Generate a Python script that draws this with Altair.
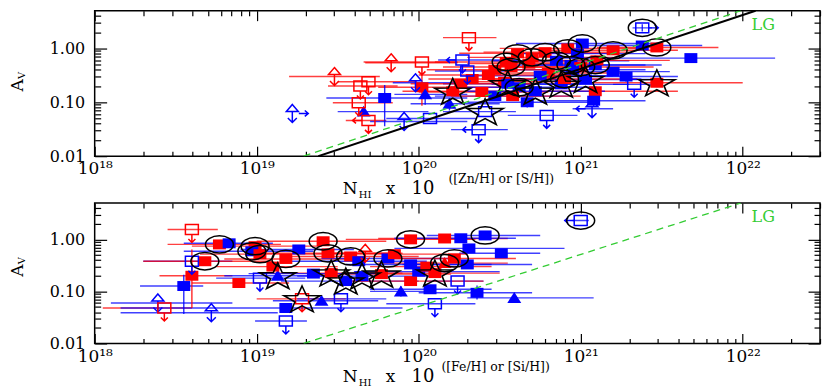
import altair as alt
import pandas as pd

# ---------------- top panel : N_HI x 10^([Zn/H] or [S/H]) ----------------
top_color = ["b", "r", "r", "r", "r", "r", "r", "b", "b", "b",
             "b", "r", "b", "r", "b", "r", "b", "b", "r", "b",
             "r", "r", "b", "b", "b", "r", "r", "r", "b", "r",
             "r", "b", "r", "b", "b", "r", "b", "r", "b", "r",
             "b", "b", "b", "b", "b", "r", "r", "b", "b", "b",
             "b", "b", "b", "r", "b", "r", "b", "r", "r", "b",
             "r", "b", "r", "r", "r", "b", "r"]
top_marker = ["utrir", "utri", "utri", "usq", "usq", "usq", "usql", "sq", "tri", "utri",
              "utri", "sq", "tri", "usq", "osq", "usq", "usql", "usq", "sq", "tri",
              "sq", "sq", "osq", "usql", "sq", "sq", "sq", "sq", "sq", "sq",
              "sq", "sq", "sq", "sq", "sq", "sq", "sq", "sq", "sq", "sq",
              "osqr", "sq", "sq", "sq", "usq", "sq", "sq", "sq", "utril", "usq",
              "sq", "sq", "sq", "sq", "sq", "sq", "sq", "sq", "sq", "sq",
              "sq", "sq", "sq", "sq", "sq", "sq", "sq"]
top_logn = [19.22, 19.48, 19.83, 19.69, 19.64, 19.63, 19.69, 19.79, 19.66, 19.91,
            19.98, 20.02, 20.04, 20.02, 20.07, 20.31, 20.27, 20.30, 20.21, 20.19,
            20.33, 20.39, 20.41, 20.37, 20.47, 20.53, 20.54, 20.61, 20.67, 20.70,
            20.78, 20.85, 20.92, 21.01, 20.94, 21.00, 21.09, 21.20, 21.38, 21.47,
            21.38, 21.68, 21.20, 21.28, 21.33, 21.47, 21.09, 21.08, 21.07, 20.79,
            20.62, 20.88, 21.03, 20.80, 20.75, 20.90, 20.95, 20.47, 20.43, 20.55,
            20.58, 20.72, 20.26, 20.57, 21.10, 20.98, 20.68]
top_av = [0.062, 0.30, 0.54, 0.24, 0.20, 0.098, 0.046, 0.12, 0.067, 0.044,
          0.23, 0.19, 0.14, 0.56, 0.050, 1.58, 0.61, 0.38, 0.16, 0.094,
          0.27, 0.155, 0.067, 0.031, 0.13, 0.24, 0.56, 0.81, 0.10, 0.68,
          0.85, 0.59, 1.00, 1.23, 0.49, 0.45, 0.49, 0.92, 1.13, 1.04,
          2.40, 0.66, 0.37, 0.30, 0.215, 0.23, 0.16, 0.107, 0.076, 0.057,
          0.19, 0.215, 0.265, 0.35, 0.31, 0.27, 0.40, 0.40, 0.32, 0.22,
          0.13, 0.16, 0.22, 0.45, 0.60, 0.80, 0.52]
top_nlo = [None, 19.20, 19.67, 19.50, 19.44, 19.47, 19.55, 19.43, 19.50, 19.70,
           19.84, 19.75, 19.85, 19.66, 19.80, 20.15, 20.12, 20.10, 19.90, 19.95,
           20.06, 20.00, 20.15, 20.20, 20.10, 20.20, 20.10, 20.25, 20.30, 20.30,
           20.40, 20.45, 20.50, 20.60, 20.50, 20.55, 20.70, 20.80, 21.00, 21.10,
           21.32, 20.90, 20.85, 20.95, 21.20, 21.00, 20.70, 20.75, 20.95, 20.55,
           20.20, 20.45, 20.60, 20.40, 20.30, 20.45, 20.55, 20.05, 20.00, 20.15,
           20.20, 20.30, 19.95, 20.15, 20.70, 20.60, 20.30]
top_nhi = [None, 19.76, 20.24, 19.99, 19.87, 19.84, 19.80, 20.30, 20.06, 20.30,
           20.36, 20.61, 20.30, 20.24, 20.36, 20.48, 20.61, 20.55, 20.60, 20.50,
           20.85, 20.80, 20.60, 20.55, 20.95, 21.00, 21.05, 21.20, 21.10, 21.20,
           21.30, 21.30, 21.35, 21.50, 21.40, 21.45, 21.50, 21.60, 21.75, 21.85,
           21.44, 22.20, 21.55, 21.60, 21.45, 22.00, 21.60, 21.40, 21.20, 20.98,
           21.10, 21.30, 21.45, 21.25, 21.20, 21.35, 21.40, 20.95, 20.90, 21.00,
           21.00, 21.15, 20.70, 21.00, 21.55, 21.40, 21.10]
top_avlo = [None, None, None, None, None, None, None, 0.036, None, None,
            None, 0.086, 0.09, None, None, None, None, None, None, 0.07,
            None, None, None, None, None, None, None, None, 0.08, None,
            None, None, None, None, None, None, None, None, None, None,
            2.05, None, None, 0.24, None, None, None, 0.085, None, None,
            None, None, None, None, None, None, None, None, None, None,
            None, None, None, None, None, None, None]
top_avhi = [None, None, None, None, None, None, None, 0.21, None, None,
            None, 0.33, 0.18, None, None, None, None, None, None, 0.12,
            None, None, None, None, None, None, None, None, 0.13, None,
            None, None, None, None, None, None, None, None, None, None,
            2.80, None, None, 0.36, None, None, None, 0.135, None, None,
            None, None, None, None, None, None, None, None, None, None,
            None, None, None, None, None, None, None]
top_ring = ["", "", "", "", "", "", "", "", "", "",
            "", "", "", "", "", "", "", "", "star", "",
            "", "", "star", "", "", "", "circ", "circ", "", "circ",
            "circ", "circ", "circ", "circ", "circ", "circ", "circ", "circ", "", "circ",
            "circ", "", "", "", "", "star", "", "", "", "",
            "circ", "star", "star", "", "", "circ", "", "", "", "star",
            "", "star", "", "circ", "", "", ""]

# ---------------- bottom panel : N_HI x 10^([Fe/H] or [Si/H]) ----------------
bot_color = ["r", "b", "r", "r", "b", "r", "b", "b", "r", "b",
             "r", "b", "r", "b", "r", "r", "r", "r", "r", "b",
             "r", "b", "r", "r", "b", "b", "r", "b", "b", "b",
             "b", "b", "b", "r", "b", "b", "b", "r", "r", "b",
             "b", "b", "b", "b", "r", "b", "b", "b", "r", "b",
             "b", "r", "r", "b", "r", "b", "r"]
bot_marker = ["usq", "usq", "sq", "sq", "sq", "sq", "sq", "utri", "usq", "utri",
              "sq", "sq", "sq", "sq", "sq", "sq", "sq", "sq", "sq", "sq",
              "sq", "tri", "usq", "sq", "sq", "sq", "sq", "tri", "usq", "usq",
              "sq", "usq", "tri", "sq", "sq", "sq", "sq", "sq", "tri", "sq",
              "usq", "sq", "sq", "usq", "sq", "sq", "osql", "tri", "sq", "sq",
              "sq", "sq", "utri", "sq", "sq", "sq", "sq"]
bot_logn = [18.60, 18.60, 18.68, 18.77, 18.83, 18.60, 18.55, 18.39, 18.43, 18.72,
            18.89, 19.26, 18.99, 18.97, 19.02, 19.18, 19.41, 19.44, 19.58, 19.81,
            19.95, 19.13, 19.28, 19.46, 19.55, 19.65, 19.77, 19.40, 19.52, 19.18,
            19.18, 19.02, 19.89, 20.16, 20.26, 20.41, 20.31, 20.22, 20.16, 20.30,
            20.24, 20.07, 20.36, 20.10, 19.95, 20.51, 21.00, 20.59, 20.10, 19.95,
            19.63, 19.85, 19.67, 20.00, 20.05, 19.35, 19.10]
bot_av = [1.55, 0.38, 0.38, 0.80, 0.84, 0.20, 0.127, 0.060, 0.048, 0.039,
          0.145, 0.64, 0.74, 0.59, 0.52, 0.42, 0.92, 0.54, 0.47, 0.43,
          1.00, 0.20, 0.072, 0.225, 0.158, 0.197, 0.215, 0.066, 0.072, 0.027,
          0.048, 0.18, 0.10, 1.04, 1.05, 1.19, 0.67, 0.43, 0.35, 0.33,
          0.158, 0.11, 0.094, 0.058, 0.158, 0.54, 2.30, 0.075, 0.225, 0.33,
          0.38, 0.52, 0.54, 0.24, 0.30, 0.22, 0.30]
bot_nlo = [18.45, 18.30, 18.30, 18.45, 18.55, 18.40, 18.28, 18.10, 18.05, 18.16,
           18.60, 18.90, 18.60, 18.55, 18.65, 18.80, 19.00, 19.05, 19.20, 19.40,
           19.55, 18.80, 19.00, 19.05, 19.15, 19.25, 19.35, 19.10, 19.25, 18.99,
           18.16, 18.75, 19.70, 19.75, 19.85, 20.05, 19.85, 19.80, 19.75, 19.90,
           20.05, 19.70, 20.00, 19.80, 19.55, 20.25, 20.95, 20.30, 19.70, 19.55,
           19.20, 19.45, 19.45, 19.60, 19.70, 18.95, 18.75]
bot_nhi = [18.76, 18.85, 19.10, 19.15, 19.10, 18.85, 18.67, 18.85, 18.60, 19.13,
           19.20, 19.60, 19.40, 19.35, 19.45, 19.60, 19.80, 19.85, 20.00, 20.25,
           20.35, 19.50, 19.55, 19.90, 20.00, 20.10, 20.20, 19.75, 19.80, 19.31,
           19.90, 19.30, 20.05, 20.55, 20.60, 20.75, 20.90, 20.60, 20.55, 20.70,
           20.40, 20.45, 20.70, 20.35, 20.40, 20.75, 21.05, 21.08, 20.50, 20.45,
           20.05, 20.30, 19.90, 20.50, 20.45, 19.75, 19.50]
bot_avlo = [None, None, None, None, None, 0.048, 0.037, None, None, None,
            None, None, None, None, None, None, None, None, None, None,
            None, None, None, None, None, None, None, None, None, None,
            None, None, 0.08, None, None, None, None, None, None, None,
            None, None, 0.07, None, None, None, None, None, None, None,
            None, None, None, None, None, None, None]
bot_avhi = [None, None, None, None, None, 0.64, 0.21, None, None, None,
            None, None, None, None, None, None, None, None, None, None,
            None, None, None, None, None, None, None, None, None, None,
            None, None, 0.125, None, None, None, None, None, None, None,
            None, None, 0.13, None, None, None, None, None, None, None,
            None, None, None, None, None, None, None]
bot_ring = ["", "", "circ", "circ", "", "", "", "", "", "",
            "", "", "circ", "circ", "circ", "circ", "circ", "circ", "circ", "circ",
            "circ", "star", "star", "star", "star", "star", "star", "", "", "",
            "", "", "", "", "", "circ", "", "circ", "circ", "",
            "", "", "", "", "", "", "circ", "", "star", "",
            "", "", "", "", "", "", ""]

# reference lines
line_n = [2.4e19, 1.2e22]
line_av = [0.01, 5.0]
lg_n = [1.95e19, 9.75e21]
lg_av = [0.01, 5.0]

# ---------------- styling ----------------
FONT = "DejaVu Serif"
XS = alt.Scale(type="log", domain=[1e18, 3e22], nice=False)
YS = alt.Scale(type="log", domain=[0.01, 5.0], nice=False)
COLOR = alt.Color("color:N", scale=alt.Scale(domain=["r", "b"], range=["#ff0000", "#0000ff"]), legend=None)

SQ = "M -0.65 -0.5 L 0.65 -0.5 L 0.65 0.5 L -0.65 0.5 Z"
TRI = "M 0 -0.6 L 0.7 0.5 L -0.7 0.5 Z"
DOWN = " M 0 0.5 L 0 1.3 M -0.35 0.95 L 0 1.3 L 0.35 0.95"
LEFT = " M -0.65 0 L -1.6 0 M -1.25 -0.3 L -1.6 0 L -1.25 0.3"
RIGHT = " M 0.65 0 L 1.6 0 M 1.25 -0.3 L 1.6 0 L 1.25 0.3"
UTRI = "M 0 -0.9 L 0.6 -0.2 L -0.6 -0.2 Z M 0 -0.2 L 0 0.9 M -0.45 0.45 L 0 0.9 L 0.45 0.45"
SHAPES = {
    "sq": SQ, "tri": TRI, "usq": SQ + DOWN, "usql": SQ + DOWN + LEFT,
    "osq": SQ, "osqr": SQ + RIGHT, "osql": SQ + LEFT,
    "utri": UTRI, "utrir": UTRI + RIGHT, "utril": UTRI + LEFT,
}
ELLIPSE = "M -1 0 A 1 0.62 0 1 0 1 0 A 1 0.62 0 1 0 -1 0 Z"
STAR = ("M 0 -0.68 L 0.235 -0.173 L 0.951 -0.162 L 0.38 0.163 L 0.588 0.677 L 0 0.37 "
        "L -0.588 0.677 L -0.38 0.163 L -0.951 -0.162 L -0.235 -0.173 Z")


def build(color, marker, logn, av, nlo, nhi, avlo, avhi, ring):
    df = pd.DataFrame({"color": color, "marker": marker, "logn": logn, "av": av,
                       "nlo": pd.Series(nlo, dtype=float), "nhi": pd.Series(nhi, dtype=float),
                       "avlo": pd.Series(avlo, dtype=float), "avhi": pd.Series(avhi, dtype=float),
                       "ring": ring})
    df["N"] = 10.0 ** df["logn"]
    df["Nlo"] = 10.0 ** df["nlo"]
    df["Nhi"] = 10.0 ** df["nhi"]
    df["path"] = df["marker"].map(SHAPES)
    return df


def X(f):
    return alt.X(f, type="quantitative", scale=XS, axis=None)


def Y(f):
    return alt.Y(f, type="quantitative", scale=YS, axis=None)


decades_x = [1e18, 1e19, 1e20, 1e21, 1e22]
minor_x = [m * 10.0 ** e for e in range(18, 23) for m in range(2, 10) if m * 10.0 ** e <= 3e22]
decades_y = [0.01, 0.1, 1.0]
minor_y = [m * 10.0 ** e for e in (-2, -1, 0) for m in range(2, 10) if m * 10.0 ** e < 5.0]
XLABEL = ("datum.value < 3e18 ? '10\u00b9\u2078' : datum.value < 3e19 ? '10\u00b9\u2079' : "
          "datum.value < 3e20 ? '10\u00b2\u2070' : datum.value < 3e21 ? '10\u00b2\u00b9' : '10\u00b2\u00b2'")


def ax(orient, values, size, labels=False, **kw):
    return alt.Axis(orient=orient, values=values, tickSize=size, offset=-size, domain=False,
                    grid=False, ticks=True, tickColor="black", tickWidth=1.2, labels=labels,
                    title=None, **kw)


dummy = pd.DataFrame({"N": [1e20], "av": [0.1]})


def axis_layer(xa, ya):
    return alt.Chart(dummy).mark_point(size=0, opacity=0).encode(
        x=alt.X("N:Q", scale=XS, axis=xa), y=alt.Y("av:Q", scale=YS, axis=ya))


def text(t, x, y, size, align="left", baseline="alphabetic", color="black", angle=0):
    return alt.Chart(pd.DataFrame({"k": [0]})).mark_text(
        text=t, font=FONT, fontSize=size, align=align, baseline=baseline, color=color,
        angle=angle).encode(x=alt.value(x), y=alt.value(y))


def panel(df, H, sup, sup_x, with_line, ty, av_y, lab_pad):
    layers = []
    ex = df[df["Nlo"].notna()]
    layers.append(alt.Chart(ex).mark_rule(strokeWidth=1.4, opacity=0.75, clip=True).encode(
        x=X("Nlo"), x2="Nhi:Q", y=Y("av"), color=COLOR))
    ey = df[df["avlo"].notna()]
    layers.append(alt.Chart(ey).mark_rule(strokeWidth=1.4, opacity=0.85, clip=True).encode(
        x=X("N"), y=Y("avlo"), y2="avhi:Q", color=COLOR))
    filled = df[df["marker"].isin(["sq", "tri"])]
    layers.append(alt.Chart(filled).mark_point(filled=True, size=400, opacity=1, strokeWidth=0).encode(
        x=X("N"), y=Y("av"), color=COLOR, shape=alt.Shape("path:N", scale=None, legend=None)))
    opn = df[~df["marker"].isin(["sq", "tri"])]
    layers.append(alt.Chart(opn).mark_point(filled=False, size=400, opacity=1, strokeWidth=1.5).encode(
        x=X("N"), y=Y("av"), color=COLOR, shape=alt.Shape("path:N", scale=None, legend=None)))
    layers.append(alt.Chart(df[df["ring"] == "circ"]).mark_point(
        shape=ELLIPSE, size=784, filled=False, color="black", strokeWidth=1.5, opacity=1).encode(
        x=X("N"), y=Y("av")))
    layers.append(alt.Chart(df[df["ring"] == "star"]).mark_point(
        shape=STAR, size=1444, filled=False, color="black", strokeWidth=1.6, opacity=1).encode(
        x=X("N"), y=Y("av")))
    if with_line:
        layers.append(alt.Chart(pd.DataFrame({"N": line_n, "av": line_av})).mark_line(
            color="black", strokeWidth=2, clip=True).encode(x=X("N"), y=Y("av")))
    layers.append(alt.Chart(pd.DataFrame({"N": lg_n, "av": lg_av})).mark_line(
        color="#33cc33", strokeWidth=1.3, strokeDash=[7, 5], clip=True).encode(x=X("N"), y=Y("av")))
    layers.append(text("LG", 671, 14, 16, align="center", baseline="middle", color="#33cc33"))
    # axes (ticks drawn inward on all four sides)
    lab_x = dict(labelExpr=XLABEL, labelFont=FONT, labelFontSize=17, labelColor="black",
                 labelPadding=lab_pad, labelFlush=False, labelOverlap=False)
    lab_y = dict(labelExpr="format(datum.value, '.2f')", labelFont=FONT, labelFontSize=16,
                 labelColor="black", labelPadding=10, labelFlush=False, labelOverlap=False)
    layers.append(axis_layer(ax("bottom", decades_x, 10, True, **lab_x), ax("left", decades_y, 12, True, **lab_y)))
    layers.append(axis_layer(ax("bottom", minor_x, 5), ax("left", minor_y, 6)))
    layers.append(axis_layer(ax("top", decades_x, 10), ax("right", decades_y, 12)))
    layers.append(axis_layer(ax("top", minor_x, 5), ax("right", minor_y, 6)))
    # axis titles
    layers.append(text("A", -77, av_y, 17, align="center", baseline="middle", angle=270))
    layers.append(text("V", -73, av_y - 10, 10, align="center", baseline="middle", angle=270))
    layers.append(text("N", 249, H + ty, 17))
    layers.append(text("HI", 265, H + ty + 4, 10))
    layers.append(text("x", 297, H + ty, 17, align="center"))
    layers.append(text("10", 318, H + ty, 18))
    layers.append(text(sup, sup_x, H + ty - 11, 12.5))
    return alt.layer(*layers).resolve_axis(x="independent", y="independent").properties(
        width=728, height=H)


top_df = build(top_color, top_marker, top_logn, top_av, top_nlo, top_nhi, top_avlo, top_avhi, top_ring)
bot_df = build(bot_color, bot_marker, bot_logn, bot_av, bot_nlo, bot_nhi, bot_avlo, bot_avhi, bot_ring)

top = panel(top_df, 146, "([Zn/H] or [S/H])", 355, True, 38, 75, 4)
bottom = panel(bot_df, 141, "([Fe/H] or [Si/H])", 348, False, 39, 68, 5)

chart = alt.vconcat(top, bottom, spacing=0).properties(padding=0, background="white").configure_view(
    stroke="black", strokeWidth=1.5)

chart.save("out.html", embed_options={"renderer": "svg", "actions": False})
